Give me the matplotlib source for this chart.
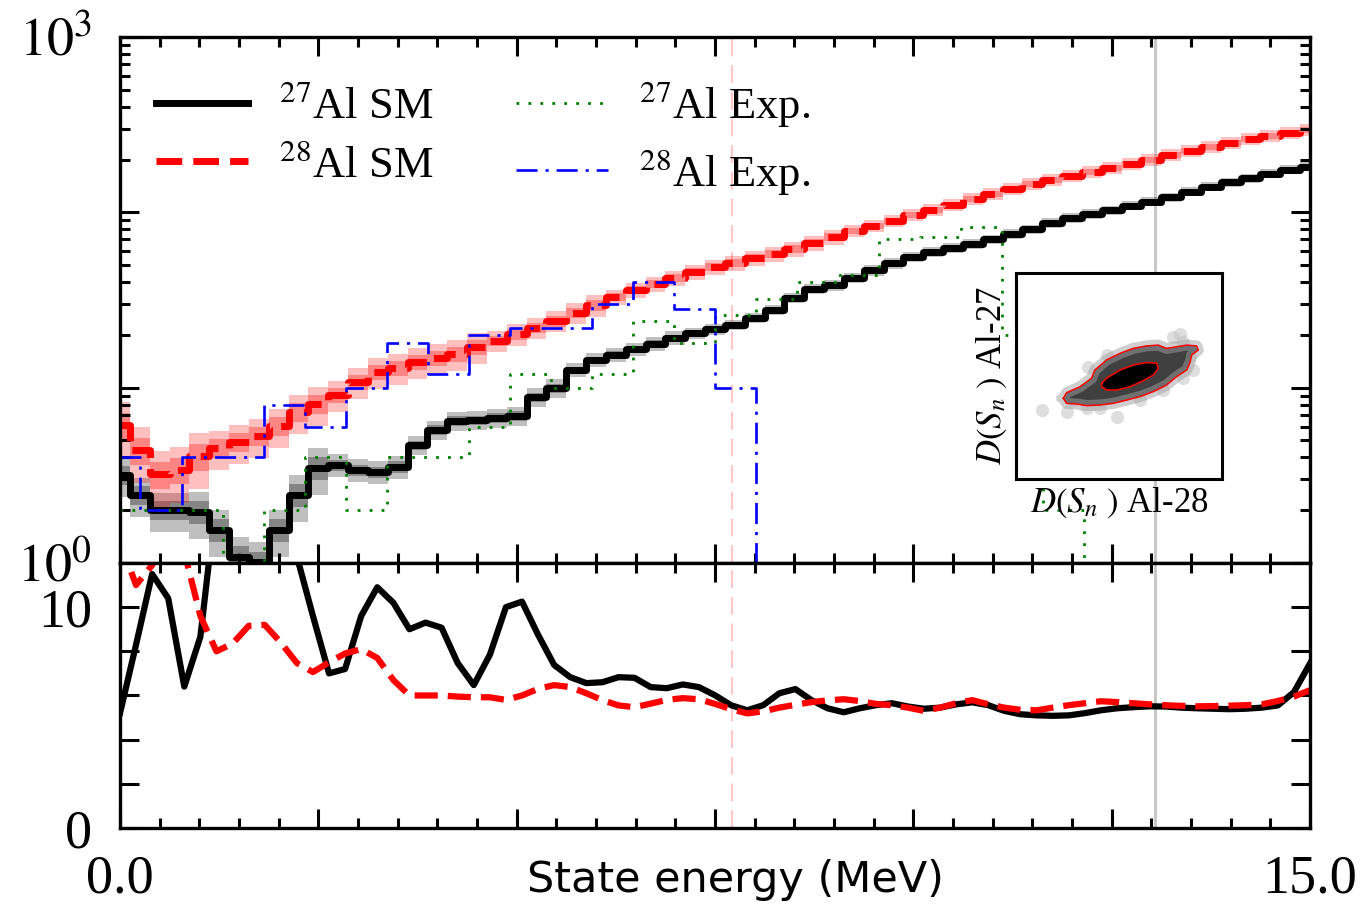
import numpy as np
import matplotlib
matplotlib.use("Agg")
import matplotlib.pyplot as plt
from matplotlib.ticker import MultipleLocator, LogLocator, FuncFormatter, NullFormatter

plt.rcParams['font.family'] = ['Liberation Serif', 'DejaVu Serif']
plt.rcParams['mathtext.fontset'] = 'stix'

# ---- top panel: level densities (shell model, 0.25 MeV steps) ----
E_sm = np.linspace(0, 15, 61)
sm27 = [3.18, 2.44, 2.0, 2.0, 1.95, 1.54, 1.08, 1.01, 1.54, 2.44,
        3.48, 3.62, 3.39, 3.30, 3.53, 4.71, 5.74, 6.46, 6.54, 6.72,
        6.90, 8.85, 9.96, 12.6, 14.4, 15.4, 16.6, 17.8, 19.2, 20.5,
        21.6, 22.8, 25.0, 27.8, 32.5, 36.6, 38.5, 42.3, 46.9, 51.4,
        55.7, 59.5, 62.7, 66.1, 70.5, 75.3, 80.4, 87.1, 93.0, 98.0,
        103, 109, 115, 122, 131, 140, 149, 157, 166, 175, 182]
sm28 = [6.1, 4.4, 3.22, 3.4, 4.08, 4.53, 4.9, 5.3, 6.04, 7.27,
        8.07, 9.08, 10.8, 12.3, 12.9, 14.0, 14.8, 15.6, 17.1, 18.5,
        20.2, 21.9, 24.0, 26.7, 29.6, 32.9, 36.1, 39.1, 42.3, 45.7,
        48.8, 51.4, 55.0, 57.9, 61.8, 66.9, 72.4, 78.3, 83.6, 89.3,
        96.6, 103, 110, 119, 127, 136, 145, 153, 161, 170,
        179, 189, 199, 212, 224, 236, 249, 262, 273, 284, 295]
# relative uncertainty of the shell-model curves
err27 = [0.25] * 4 + [0.30] * 7 + [0.15] * 4 + [0.12] * 8 + [0.09] * 6 + [0.07] * 12 + [0.06] * 20
err28 = [0.35] * 5 + [0.25] * 6 + [0.20] * 8 + [0.14] * 6 + [0.10] * 12 + [0.08] * 24

# experimental level densities (bins of 15/29 MeV)
E_exp = np.linspace(0, 15, 30)
exp27 = [2, 2, 2, 0, 2, 4, 2, 4, 4, 6, 12, 10, 12, 24, 18, 26, 32, 40, 44, 70,
         72, 82, 20, 2, 0, 0, 0, 0, 0, 0]
exp28 = [4, 2, 4, 4, 8, 6, 10, 18, 12, 20, 22, 22, 30, 40, 28, 10, 0, 0, 0, 0,
         0, 0, 0, 0, 0, 0, 0, 0, 0, 0]

# ---- bottom panel ----
E_ratio = np.linspace(0, 15, 75)
ratio27 = [5.19, 8.3, 11.5, 10.4, 6.4, 8.66, 15, 18, 20, 20,
           18, 12.3, 9.6, 7.0, 7.2, 9.6, 10.9, 10.2, 9.0, 9.3,
           9.07, 7.47, 6.47, 7.84, 10.0, 10.25, 8.75, 7.38, 6.83, 6.56,
           6.6, 6.83, 6.8, 6.38, 6.33, 6.5, 6.38, 6.01, 5.56, 5.33,
           5.56, 6.1, 6.29, 5.79, 5.42, 5.24, 5.42, 5.56, 5.65, 5.5,
           5.40, 5.45, 5.6, 5.69, 5.56, 5.3, 5.15, 5.1, 5.08, 5.1,
           5.2, 5.33, 5.42, 5.47, 5.51, 5.5, 5.45, 5.42, 5.4, 5.38,
           5.4, 5.45, 5.55, 6.15, 7.45]
ratio28 = [13.0, 11.0, 11.9, 13.5, 12.5, 9.6, 8.0, 8.35, 9.15, 9.2,
           8.4, 7.47, 7.06, 7.5, 7.9, 8.1, 7.7, 6.7, 6.0, 6.0,
           6.0, 5.95, 5.92, 5.92, 5.8, 6.0, 6.3, 6.47, 6.38, 6.1,
           5.79, 5.55, 5.47, 5.63, 5.8, 5.88, 5.83, 5.62, 5.38, 5.19,
           5.28, 5.45, 5.58, 5.7, 5.78, 5.83, 5.75, 5.62, 5.56, 5.45,
           5.3, 5.45, 5.65, 5.79, 5.6, 5.45, 5.35, 5.33, 5.45, 5.56,
           5.65, 5.74, 5.7, 5.65, 5.6, 5.56, 5.53, 5.51, 5.52, 5.54,
           5.56, 5.6, 5.75, 5.95, 6.24]

E_cut_pink = 7.72
E_cut_gray = 13.05

# ---- inset: correlation of D(S_n) for Al-28 (x) and Al-27 (y), unit box ----
outer_x = [0.230, 0.246, 0.311, 0.367, 0.383, 0.440, 0.505, 0.569, 0.634, 0.691,
           0.731, 0.829, 0.877, 0.885, 0.853, 0.845, 0.829, 0.780, 0.731, 0.667,
           0.602, 0.537, 0.472, 0.408, 0.343, 0.295, 0.246, 0.230]
outer_y = [0.392, 0.419, 0.448, 0.489, 0.529, 0.578, 0.610, 0.634, 0.646, 0.650,
           0.634, 0.650, 0.646, 0.626, 0.602, 0.566, 0.529, 0.497, 0.456, 0.424,
           0.400, 0.383, 0.367, 0.359, 0.356, 0.364, 0.367, 0.392]
inner_x = [0.416, 0.440, 0.505, 0.569, 0.634, 0.683, 0.691, 0.667, 0.618, 0.553,
           0.489, 0.440, 0.416, 0.416]
inner_y = [0.464, 0.489, 0.529, 0.553, 0.565, 0.562, 0.537, 0.505, 0.477, 0.448,
           0.432, 0.432, 0.448, 0.464]
stray_x = [0.125, 0.246, 0.343, 0.489, 0.440, 0.351, 0.764, 0.796, 0.812, 0.861,
           0.812, 0.715, 0.602, 0.408, 0.278, 0.845]
stray_y = [0.335, 0.327, 0.343, 0.303, 0.602, 0.545, 0.691, 0.706, 0.664, 0.529,
           0.489, 0.432, 0.383, 0.343, 0.383, 0.593]


def style_axis(ax):
    ax.tick_params(which='both', direction='in', top=True, right=True,
                   width=2.2, labelsize=39)
    ax.tick_params(which='major', length=14)
    ax.tick_params(which='minor', length=7)
    ax.tick_params(axis='y', pad=20)
    ax.tick_params(axis='x', pad=19)
    for s in ax.spines.values():
        s.set_linewidth(2.4)
    ax.set_xlim(0, 15)
    ax.xaxis.set_major_locator(MultipleLocator(2.5))
    ax.xaxis.set_minor_locator(MultipleLocator(0.5))


fig = plt.figure(figsize=(13.71, 9.07), dpi=100)
ax_top = fig.add_axes([0.0875, 0.3793, 0.868, 0.5799])
ax_bot = fig.add_axes([0.0875, 0.0871, 0.868, 0.2922])

# top panel
style_axis(ax_top)
ax_top.set_yscale('log')
ax_top.set_ylim(1, 1000)
ax_top.yaxis.set_major_locator(LogLocator(base=10))
ax_top.yaxis.set_minor_locator(LogLocator(base=10, subs=np.arange(2, 10)))
ax_top.yaxis.set_minor_formatter(NullFormatter())
ax_top.yaxis.set_major_formatter(FuncFormatter(
    lambda v, _: {1: r'$10^0$', 1000: r'$10^3$'}.get(int(round(v)), '')))
ax_top.tick_params(axis='x', labelbottom=False)

v27 = np.array(sm27)
v28 = np.array(sm28)
e27 = np.array(err27)
e28 = np.array(err28)
ax_top.fill_between(E_sm, v27 * (1 - e27), v27 * (1 + e27), step='mid',
                    color='black', alpha=0.25, lw=0)
ax_top.fill_between(E_sm, v27 * (1 - e27 / 2), v27 * (1 + e27 / 2), step='mid',
                    color='black', alpha=0.3, lw=0)
ax_top.fill_between(E_sm, v28 * (1 - e28), v28 * (1 + e28), step='mid',
                    color='red', alpha=0.25, lw=0)
ax_top.fill_between(E_sm, v28 * (1 - e28 / 2), v28 * (1 + e28 / 2), step='mid',
                    color='red', alpha=0.3, lw=0)

l27, = ax_top.step(E_sm, v27, where='mid', color='black', lw=5,
                   label=r'$^{27}$Al SM')
l28, = ax_top.step(E_sm, v28, where='mid', color='red', lw=5, ls='--',
                   label=r'$^{28}$Al SM')
g27, = ax_top.step(E_exp, exp27, where='mid', color='green', lw=2.0,
                   ls=(0, (1, 3.3)), label=r'$^{27}$Al Exp.')
b28, = ax_top.step(E_exp, exp28, where='mid', color='blue', lw=1.9,
                   ls=(0, (8, 3, 1.2, 3)), label=r'$^{28}$Al Exp.')

for ax in (ax_top, ax_bot):
    ax.axvline(E_cut_pink, color='#ffc8c8', lw=1.6, ls=(0, (8, 4)), zorder=0.5)
    ax.axvline(E_cut_gray, color='#c8c8c8', lw=2.2, zorder=0.5)

ax_top.legend(handles=[l27, l28, g27, b28], ncol=2, frameon=False,
              loc='upper left', bbox_to_anchor=(0.004, 0.979), fontsize=32,
              handlelength=2.07, handletextpad=0.7, columnspacing=1.85,
              labelspacing=0.4, borderaxespad=0.3)

# bottom panel
style_axis(ax_bot)
ax_bot.set_ylim(0, 12)
ax_bot.yaxis.set_major_locator(MultipleLocator(2))
ax_bot.yaxis.set_major_formatter(FuncFormatter(
    lambda v, _: {0: '0', 10: '10'}.get(int(round(v)), '')))
ax_bot.xaxis.set_major_formatter(FuncFormatter(
    lambda v, _: {0: '0.0', 15: '15.0'}.get(int(round(v)) if abs(v - round(v)) < 1e-6 else -1, '')))
ax_bot.plot(E_ratio, ratio27, color='black', lw=4.5)
ax_bot.plot(E_ratio, ratio28, color='red', lw=4.5, ls='--')

fig.text(735 / 1371, 1 - 880 / 907, 'State energy (MeV)', family='DejaVu Sans',
         fontsize=31, ha='center', va='center')

# inset
ax_in = fig.add_axes([0.741, 0.4719, 0.1503, 0.2271])
ax_in.set_xlim(0, 1)
ax_in.set_ylim(0, 1)
ax_in.set_xticks([])
ax_in.set_yticks([])
for s in ax_in.spines.values():
    s.set_linewidth(2.2)
ax_in.scatter(stray_x, stray_y, s=90, color='#c4c4c4', alpha=0.55, lw=0)
ax_in.plot(outer_x, outer_y, color='#a0a0a0', lw=8, alpha=0.5)
ax_in.fill(outer_x, outer_y, color='#1e1e1e', alpha=0.85, lw=0)
ax_in.fill(inner_x, inner_y, color='black', lw=0)
ax_in.plot(outer_x, outer_y, color='red', lw=1.1)
ax_in.plot(inner_x, inner_y, color='red', lw=1.1)
ax_in.set_xlabel(r'$D(S_n\ )$ Al-28', fontsize=25, labelpad=5)
ax_in.set_ylabel(r'$D(S_n\ )$ Al-27', fontsize=25, labelpad=5)

fig.savefig('out.png', dpi=100)
